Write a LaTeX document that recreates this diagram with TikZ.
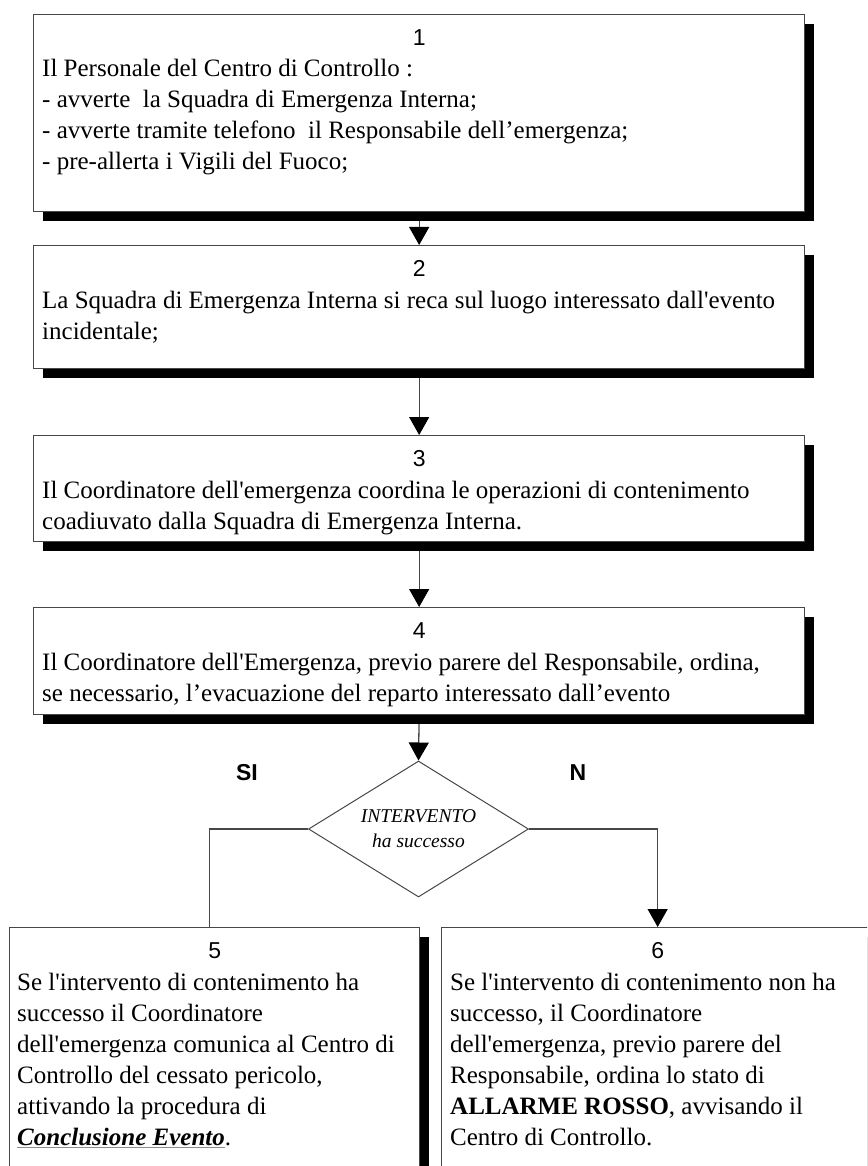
\documentclass[tikz,border=0pt]{standalone}
\usepackage{fontspec}
\setmainfont{Liberation Serif}[Ligatures=TeXOff]
\setsansfont{Liberation Sans}
\usetikzlibrary{arrows.meta,shapes.geometric,shadows,calc}

\pgfdeclarelayer{background}
\pgfsetlayers{background,main}

\colorlet{edge}{black!72}
% gray rule under a black word, like a hyperlink
\newcommand\linkline[1]{\textcolor{black!45}{\underline{\textcolor{black}{#1}}}}
% left-aligned block of lines whose baseline is that of its first line
\newcommand\textlines[1]{\begin{tabular}[t]{@{}l@{}}#1\end{tabular}}

\begin{document}
\begin{tikzpicture}[x=1pt,y=-1pt,
  stepbox/.style={draw=edge, line width=1.3pt, fill=white, anchor=north west,
    inner sep=0pt,
    drop shadow={shadow xshift=9.5pt, shadow yshift=-9.5pt, fill=black, opacity=1}},
  stepnum/.style={font=\sffamily\fontsize{23}{23}\selectfont, anchor=base, inner sep=0pt},
  steptext/.style={font=\fontsize{25}{31}\selectfont, anchor=base west, inner sep=0pt},
  flow/.style={draw=edge, line width=1.3pt},
  tip/.style={-{Triangle[length=18pt,width=20pt,color=black]}},
  choice/.style={font=\sffamily\bfseries\fontsize{23}{23}\selectfont, inner sep=0pt},
  test/.style={draw=edge, line width=1pt, fill=white, diamond, shape aspect=1.62,
    minimum width=220pt, minimum height=136pt, inner sep=0pt, align=center,
    font=\itshape\fontsize{19.5}{25}\selectfont},
]
\clip (0,0) rectangle (867,1166);

% process steps
\node[stepbox, minimum width=771pt, minimum height=197pt] (b1) at (33,14) {};
\node[stepbox, minimum width=771pt, minimum height=123pt] (b2) at (33,245) {};
\node[stepbox, minimum width=771pt, minimum height=106pt] (b3) at (33,435) {};
\node[stepbox, minimum width=771pt, minimum height=107pt] (b4) at (33,607) {};
\node[stepbox, minimum width=410pt, minimum height=300pt] (b5) at (9,927) {};
\node[stepbox, minimum width=432pt, minimum height=300pt] (b6) at (441,927) {};

% decision
\node[test] (dia) at (418.5,829) {INTERVENTO\\ha successo};
\node[choice] (si) at (247,773) {SI};
\node[choice] (no) at (578,773) {N};

% step numbers
\node[stepnum] (n1) at ($(b1.north)+(0,31.5)$) {1};
\node[stepnum] (n2) at ($(b2.north)+(0,31.5)$) {2};
\node[stepnum] (n3) at ($(b3.north)+(0,31.5)$) {3};
\node[stepnum] (n4) at ($(b4.north)+(0,31.5)$) {4};
\node[stepnum] (n5) at ($(b5.north)+(0,31.5)$) {5};
\node[stepnum] (n6) at ($(b6.north)+(0,31.5)$) {6};

% step texts
\node[steptext] (t1) at ($(b1.north west)+(9,63)$) {\textlines{%
  Il Personale del Centro di Controllo :\\
  - avverte~ la Squadra di Emergenza Interna;\\
  - avverte tramite telefono~ il Responsabile dell’emergenza;\\
  - pre-allerta i Vigili del Fuoco;}};
\node[steptext] (t2) at ($(b2.north west)+(9,63)$) {\textlines{%
  La Squadra di Emergenza Interna si reca sul luogo interessato dall'evento\\
  incidentale;}};
\node[steptext] (t3) at ($(b3.north west)+(9,63)$) {\textlines{%
  Il Coordinatore dell'emergenza coordina le operazioni di contenimento\\
  coadiuvato dalla Squadra di Emergenza Interna.}};
\node[steptext] (t4) at ($(b4.north west)+(9,63)$) {\textlines{%
  Il Coordinatore dell'Emergenza, previo parere del Responsabile, ordina,\\
  se necessario, l’evacuazione del reparto interessato dall’evento}};
\node[steptext] (t5) at ($(b5.north west)+(8,63)$) {\textlines{%
  Se l'intervento di contenimento ha\\
  successo il Coordinatore\\
  dell'emergenza comunica al Centro di\\
  Controllo del cessato pericolo,\\
  attivando la procedura di\\
  \linkline{\textbf{\textit{Conclusione Evento}}}.}};
\node[steptext] (t6) at ($(b6.north west)+(9,63)$) {\textlines{%
  Se l'intervento di contenimento non ha\\
  successo, il Coordinatore\\
  dell'emergenza, previo parere del\\
  Responsabile, ordina lo stato di\\
  \textbf{ALLARME ROSSO}, avvisando il\\
  Centro di Controllo.}};

% connectors, kept behind the boxes and their shadows
\begin{pgfonlayer}{background}
  \draw[flow, tip] (b1.south) -- (b2.north);
  \draw[flow, tip] (b2.south) -- (b3.north);
  \draw[flow, tip] (b3.south) -- (b4.north);
  \draw[flow, tip] (b4.south) -- (dia.north);
  \draw[flow] (dia.west) -| ($(b5.north)+(-5,0)$);
  \draw[flow, tip] (dia.east) -| (b6.north);
\end{pgfonlayer}
\end{tikzpicture}
\end{document}
